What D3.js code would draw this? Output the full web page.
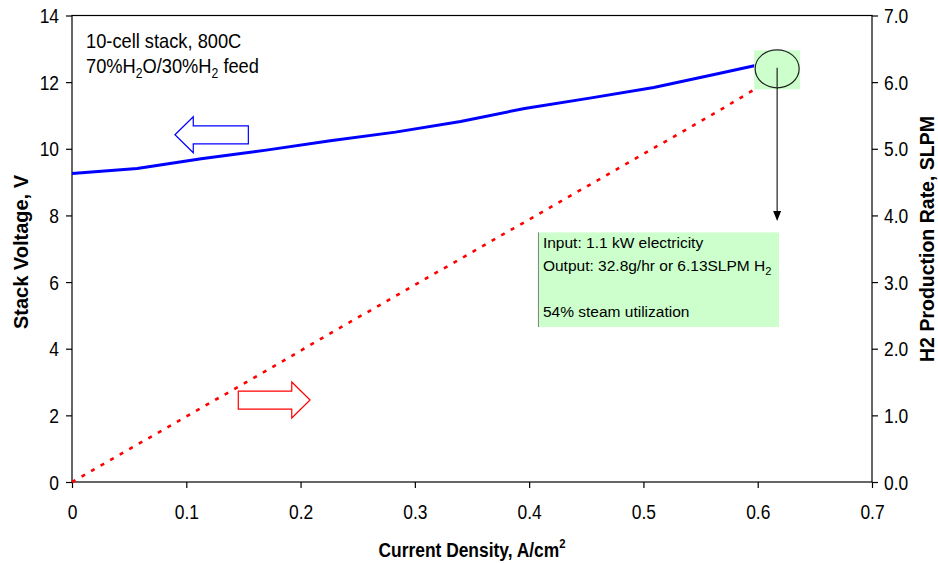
<!DOCTYPE html>
<html>
<head>
<meta charset="utf-8">
<script src="https://cdn.jsdelivr.net/npm/d3@7"></script>
<style>
  body { margin: 0; background: #fff; }
  svg { display: block; }
  text { font-family: "Liberation Sans", Arial, sans-serif; fill: #000; }
</style>
</head>
<body>
<svg id="chart" width="938" height="563"></svg>
<script>
// Stack performance: voltage and H2 production versus current density
const currentDensity = [0, 0.057, 0.113, 0.170, 0.226, 0.283, 0.340, 0.396, 0.453, 0.509, 0.566, 0.598];
const stackVoltage   = [9.26, 9.41, 9.70, 9.96, 10.24, 10.50, 10.82, 11.21, 11.52, 11.84, 12.26, 12.50];
const h2Rate         = [0, 0.56, 1.11, 1.67, 2.23, 2.79, 3.35, 3.90, 4.46, 5.01, 5.57, 5.90];

const xTicks    = [0, 0.1, 0.2, 0.3, 0.4, 0.5, 0.6, 0.7];
const voltTicks = [0, 2, 4, 6, 8, 10, 12, 14];
const rateTicks = [0, 1, 2, 3, 4, 5, 6, 7];

const noteLines   = ["10-cell stack, 800C"];
const summaryText = ["Input: 1.1 kW electricity", "Output: 32.8g/hr or 6.13SLPM H", "", "54% steam utilization"];

const svg = d3.select("#chart");
const plot = { left: 72, right: 872, top: 15.5, bottom: 482 };
const SQ = 0.87; // horizontal squeeze of the narrow label lettering

const x  = d3.scaleLinear().domain([0, 0.7]).range([plot.left, plot.right]);
const yV = d3.scaleLinear().domain([0, 14]).range([plot.bottom, plot.top]);
const yR = d3.scaleLinear().domain([0, 7]).range([plot.bottom, plot.top]);

function squeeze(sel) {
  sel.each(function () {
    const t = d3.select(this);
    const xx = +t.attr("x") || 0;
    t.attr("x", xx / SQ).attr("transform", `scale(${SQ},1)`);
  });
}

// --- plot frame
svg.append("rect")
  .attr("x", plot.left).attr("y", plot.top)
  .attr("width", plot.right - plot.left).attr("height", plot.bottom - plot.top)
  .attr("fill", "none").attr("stroke", "#000").attr("stroke-width", 1.2);

// --- axes
function styleAxis(g) {
  g.select(".domain").remove();
  g.selectAll(".tick line").attr("stroke", "#000").attr("stroke-width", 1.2);
  g.selectAll(".tick text").attr("font-size", 20).attr("fill", "#000")
    .style("font-family", '"Liberation Sans", Arial, sans-serif');
}

svg.append("g").attr("transform", `translate(0,${plot.bottom})`)
  .call(d3.axisBottom(x).tickValues(xTicks).tickSize(6).tickPadding(17)
    .tickFormat(d => d === 0 ? "0" : d3.format(".1f")(d)))
  .call(styleAxis)
  .call(g => g.selectAll(".tick text").call(squeeze));

svg.append("g").attr("transform", `translate(${plot.left},0)`)
  .call(d3.axisLeft(yV).tickValues(voltTicks).tickSize(6).tickPadding(7).tickFormat(d3.format("d")))
  .call(styleAxis)
  .call(g => g.selectAll(".tick text").attr("dy", "0.35em").call(squeeze));

svg.append("g").attr("transform", `translate(${plot.right},0)`)
  .call(d3.axisRight(yR).tickValues(rateTicks).tickSize(6).tickPadding(6).tickFormat(d3.format(".1f")))
  .call(styleAxis)
  .call(g => g.selectAll(".tick text").attr("dy", "0.35em").call(squeeze));

// --- axis titles
const xt = svg.append("g").attr("transform", `translate(${(plot.left + plot.right) / 2},557) scale(${SQ},1)`)
  .append("text").attr("text-anchor", "middle").attr("font-size", 20).attr("font-weight", "bold");
xt.append("tspan").text("Current Density, A/cm");
xt.append("tspan").attr("font-size", 13).attr("dy", -9).text("2");

svg.append("text")
  .attr("transform", `translate(28,252) rotate(-90)`)
  .attr("text-anchor", "middle").attr("font-size", 20).attr("font-weight", "bold")
  .text("Stack Voltage, V");

svg.append("text")
  .attr("transform", `translate(934,239) rotate(-90)`)
  .attr("text-anchor", "middle").attr("font-size", 19.5).attr("font-weight", "bold")
  .text("H2 Production Rate, SLPM");

// --- series
const pts = currentDensity.map((j, i) => ({ j, v: stackVoltage[i], h: h2Rate[i] }));

svg.append("path").datum(pts)
  .attr("fill", "none").attr("stroke", "#ff0000").attr("stroke-width", 2.6)
  .attr("stroke-dasharray", "4,7")
  .attr("d", d3.line().x(d => x(d.j)).y(d => yR(d.h)));

svg.append("path").datum(pts)
  .attr("fill", "none").attr("stroke", "#0000ff").attr("stroke-width", 3)
  .attr("stroke-linejoin", "round")
  .attr("d", d3.line().x(d => x(d.j)).y(d => yV(d.v)));

// --- hollow block arrows pointing to each series' axis
function blockArrow(tipX, tailX, cy, dir, color) {
  const headLen = 18.3, headHalf = 18, shaftHalf = 9;
  const hb = tipX - dir * headLen;
  const p = d3.path();
  p.moveTo(tipX, cy);
  p.lineTo(hb, cy - headHalf);
  p.lineTo(hb, cy - shaftHalf);
  p.lineTo(tailX, cy - shaftHalf);
  p.lineTo(tailX, cy + shaftHalf);
  p.lineTo(hb, cy + shaftHalf);
  p.lineTo(hb, cy + headHalf);
  p.closePath();
  svg.append("path").attr("d", p.toString())
    .attr("fill", "#fff").attr("stroke", color).attr("stroke-width", 1.2);
}
blockArrow(x(0.0901), x(0.1543), yV(10.42), -1, "#0000ff");
blockArrow(x(0.2083), x(0.1455), yV(2.46), 1, "#ff0000");

// --- highlight on the last operating point
const hx = x(0.617), hy = yV(12.40);
svg.append("rect").attr("x", hx - 23).attr("y", hy - 18.5).attr("width", 46).attr("height", 39)
  .attr("fill", "#ccffcc");
svg.append("ellipse").attr("cx", hx).attr("cy", hy).attr("rx", 22).attr("ry", 19)
  .attr("fill", "#ccffcc").attr("stroke", "#222").attr("stroke-width", 1.2);

const tipY = yV(7.83);
svg.append("line").attr("x1", hx).attr("y1", hy - 1).attr("x2", hx).attr("y2", tipY - 8)
  .attr("stroke", "#222").attr("stroke-width", 1.2);
svg.append("path")
  .attr("d", `M${hx},${tipY} L${hx - 4},${tipY - 10} L${hx + 4},${tipY - 10} Z`)
  .attr("fill", "#000");

// --- summary box
const bx0 = x(0.4077), bx1 = x(0.6186), by0 = yV(7.49), by1 = yV(4.65);
svg.append("rect").attr("x", bx0).attr("y", by0).attr("width", bx1 - bx0).attr("height", by1 - by0)
  .attr("fill", "#ccffcc");
svg.append("line").attr("x1", bx0 + 0.5).attr("x2", bx0 + 0.5).attr("y1", by0).attr("y2", by1)
  .attr("stroke", "#808080").attr("stroke-width", 1);

summaryText.forEach((s, i) => {
  if (!s) return;
  const t = svg.append("text").attr("x", bx0 + 5).attr("y", by0 + 16 + i * 23).attr("font-size", 15.5);
  t.append("tspan").text(s);
  if (i === 1) t.append("tspan").attr("font-size", 11).attr("dy", 4).text("2");
});

// --- run conditions note
const note = svg.append("g").attr("transform", `translate(86,0) scale(${SQ},1)`);
note.append("text").attr("x", 0).attr("y", 48).attr("font-size", 21).text(noteLines[0]);
const feed = note.append("text").attr("x", 0).attr("y", 73).attr("font-size", 21);
feed.append("tspan").text("70%H");
feed.append("tspan").attr("font-size", 14).attr("dy", 5).text("2");
feed.append("tspan").attr("dy", -5).text("O/30%H");
feed.append("tspan").attr("font-size", 14).attr("dy", 5).text("2");
feed.append("tspan").attr("dy", -5).text(" feed");
</script>
</body>
</html>
